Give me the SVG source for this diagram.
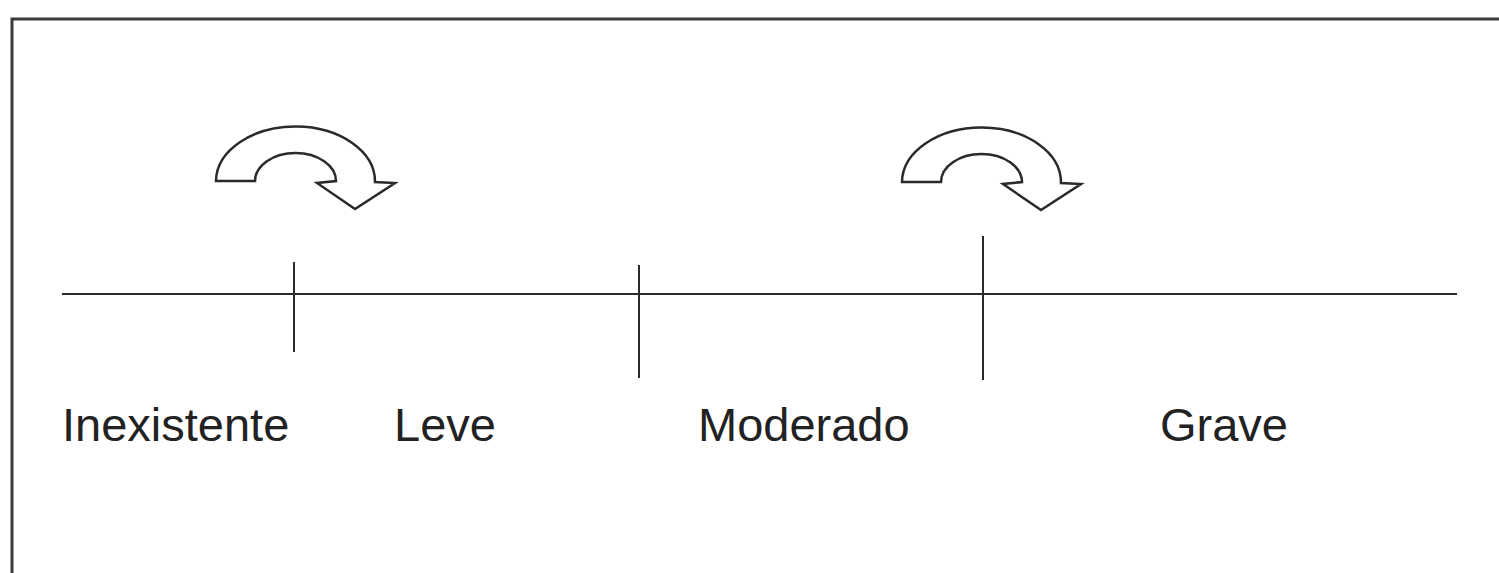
<svg xmlns="http://www.w3.org/2000/svg" width="1499" height="573" viewBox="0 0 1499 573">
  <style>
    .frame { fill: none; stroke: #3a3a3a; stroke-width: 3; }
    .axis { fill: none; stroke: #2a2a2a; stroke-width: 2; }
    .curl { fill: #ffffff; stroke: #2a2a2a; stroke-width: 2.5; stroke-linejoin: miter; }
    .label { font-family: "Liberation Sans", Arial, sans-serif; font-size: 47px; fill: #222222; }
  </style>
  <defs>
    <!-- curved block arrow, bending over to the right and down -->
    <path id="curl-arrow" d="M0,0 L39,0 A40.5,28 0 0 1 120,0 L101,2 L139,28 L179,2 L159,1 A79.5,55 0 0 0 0,0 Z"/>
  </defs>
  <rect width="1499" height="573" fill="#ffffff"/>
  <g id="frame">
    <path class="frame" d="M12,580 L12,19 L1510,19"/>
  </g>
  <g id="connectors">
    <line class="axis" x1="62" y1="294" x2="1457" y2="294"/>
    <line class="axis" x1="294" y1="262" x2="294" y2="352"/>
    <line class="axis" x1="639" y1="265" x2="639" y2="378"/>
    <line class="axis" x1="983" y1="236" x2="983" y2="380"/>
  </g>
  <g id="arrow-leve">
    <use href="#curl-arrow" class="curl" x="216" y="181"/>
  </g>
  <g id="arrow-grave">
    <use href="#curl-arrow" class="curl" x="902" y="182"/>
  </g>
  <g id="node-inexistente"><text class="label" x="62" y="441">Inexistente</text></g>
  <g id="node-leve"><text class="label" x="394" y="441">Leve</text></g>
  <g id="node-moderado"><text class="label" x="698" y="441">Moderado</text></g>
  <g id="node-grave"><text class="label" x="1160" y="441">Grave</text></g>
</svg>
